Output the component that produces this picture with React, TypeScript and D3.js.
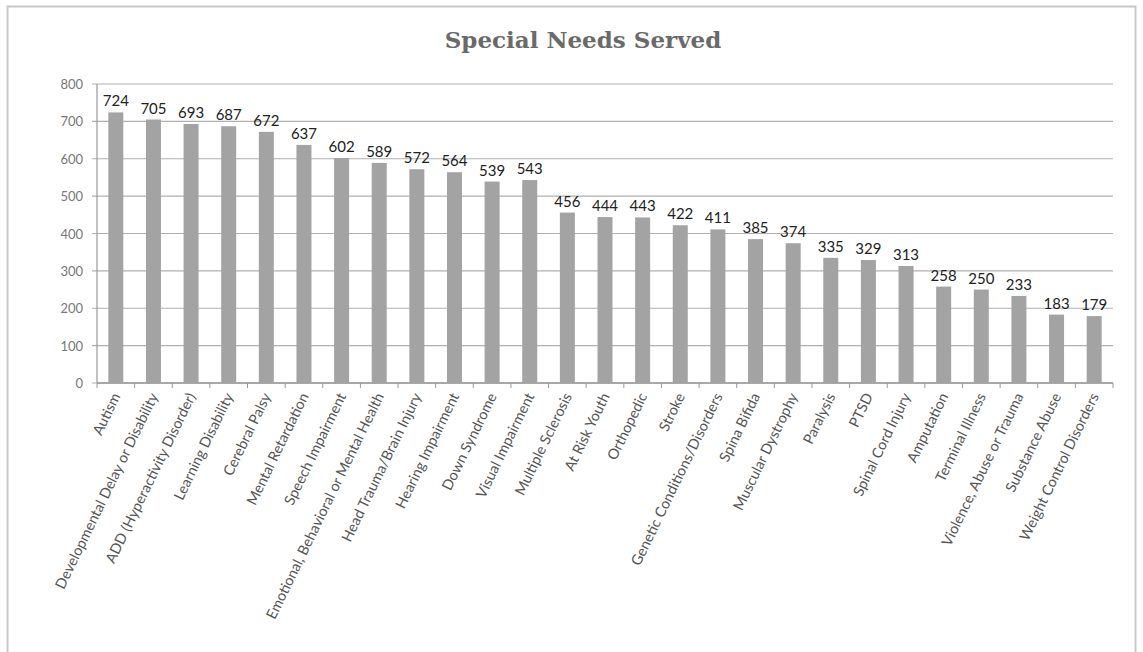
import React from "react";
import * as d3 from "d3";

const categories = [
  "Autism",
  "Developmental Delay or Disability",
  "ADD (Hyperactivity Disorder)",
  "Learning Disability",
  "Cerebral Palsy",
  "Mental Retardation",
  "Speech Impairment",
  "Emotional, Behavioral or Mental Health",
  "Head Trauma/Brain Injury",
  "Hearing Impairment",
  "Down Syndrome",
  "Visual Impairment",
  "Multiple Sclerosis",
  "At Risk Youth",
  "Orthopedic",
  "Stroke",
  "Genetic Conditions/Disorders",
  "Spina Bifida",
  "Muscular Dystrophy",
  "Paralysis",
  "PTSD",
  "Spinal Cord Injury",
  "Amputation",
  "Terminal Illness",
  "Violence, Abuse or Trauma",
  "Substance Abuse",
  "Weight Control Disorders",
];
const values = [724, 705, 693, 687, 672, 637, 602, 589, 572, 564, 539, 543, 456, 444, 443, 422, 411, 385, 374, 335, 329, 313, 258, 250, 233, 183, 179];
const yTicks = [0, 100, 200, 300, 400, 500, 600, 700, 800];
const title = "Special Needs Served";

const W = 1143;
const H = 652;
const left = 97;
const right = 1113;
const top = 84;
const bottom = 383;

export default function App() {
  const xb = d3.scaleBand<string>().domain(categories).range([left, right]);
  const y = d3.scaleLinear().domain([0, 800]).range([bottom, top]);
  const font = "Lato, 'Open Sans', sans-serif";
  return (
    <svg width={W} height={H} style={{ position: "absolute", left: 0, top: 0, background: "#fff" }}>
      <rect x={7.5} y={6.5} width={1128} height={650} fill="#fff" stroke="#c8c8c8" strokeWidth={2} />
      <text x={583} y={48} textAnchor="middle" fontFamily="'DejaVu Serif', serif" fontWeight="bold" fontSize={23} fill="#6a6a6a">
        {title}
      </text>
      {yTicks.map((t) => (
        <g key={t}>
          <line x1={left - 5} x2={right} y1={y(t)} y2={y(t)} stroke="#b0b0b0" strokeWidth={1.2} />
          <text x={left - 14} y={y(t) + 5} textAnchor="end" fontFamily={font} fontSize={13} fill="#777">
            {t}
          </text>
        </g>
      ))}
      <line x1={left} x2={left} y1={top} y2={bottom} stroke="#999" strokeWidth={1.2} />
      <line x1={left} x2={right} y1={bottom} y2={bottom} stroke="#999" strokeWidth={1.5} />
      {categories.map((c, i) => (
        <line key={"t" + i} x1={xb(c)! + xb.bandwidth()} x2={xb(c)! + xb.bandwidth()} y1={bottom} y2={bottom + 5} stroke="#999" />
      ))}
      <line x1={left} x2={left} y1={bottom} y2={bottom + 5} stroke="#999" />
      {categories.map((c, i) => {
        const cx = xb(c)! + xb.bandwidth() / 2;
        return (
          <g key={c}>
            <rect x={cx - 7.5} y={y(values[i])} width={15} height={bottom - y(values[i])} fill="#a3a3a3" />
            <text x={cx} y={y(values[i]) - 6} textAnchor="middle" fontFamily={font} fontSize={15} fill="#222">
              {values[i]}
            </text>
            <text
              transform={`translate(${cx + 5},${bottom + 13}) rotate(-64)`}
              textAnchor="end"
              fontFamily={font}
              fontSize={14.5}
              fill="#555"
            >
              {c}
            </text>
          </g>
        );
      })}
    </svg>
  );
}
